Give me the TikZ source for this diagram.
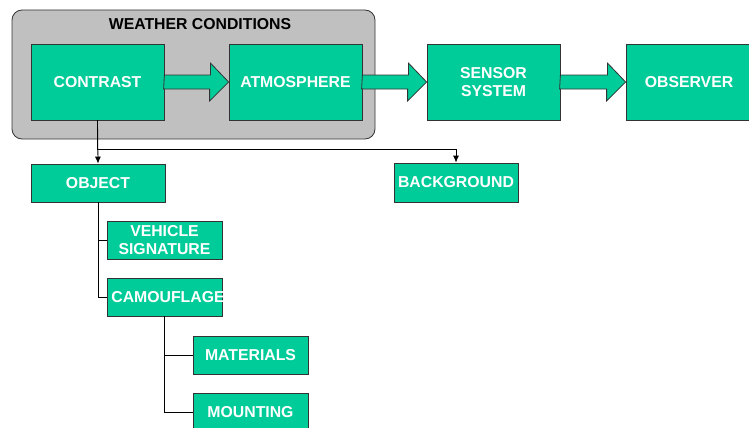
\documentclass[tikz,border=0pt]{standalone}
\usepackage{fontspec}
\setmainfont{Liberation Sans}
\usetikzlibrary{arrows.meta}
\definecolor{boxgreen}{RGB}{0,204,153}
\definecolor{panelgray}{RGB}{192,192,192}
\definecolor{edgegray}{RGB}{51,51,51}

\begin{document}
\begin{tikzpicture}[x=1pt,y=-1pt,line width=0.8pt,
        >={Latex[length=7pt,width=6pt]},
        box/.style={rectangle,draw=edgegray,fill=boxgreen,text=white,inner sep=0pt,
            align=center,font=\fontsize{15.8}{18.5}\selectfont\bfseries},
        fat/.style={draw=edgegray,fill=boxgreen,line join=miter}]
        \useasboundingbox (0,0) rectangle (749,428);
        \clip (0,0) rectangle (749,428);
        % weather panel
        \node at (193.5,74.5)[rectangle,rounded corners=10pt,draw=edgegray,fill=panelgray,
            minimum width=363pt,minimum height=129pt] (weather) {};
        \node at (200,24)[font=\fontsize{15.8}{18.5}\selectfont\bfseries] (weathertitle) {WEATHER CONDITIONS};
        % main chain
        \node at (97.5,82)[box,minimum width=133pt,minimum height=76pt] (contrast) {CONTRAST};
        \node at (295.5,82)[box,minimum width=133pt,minimum height=76pt] (atmosphere) {ATMOSPHERE};
        \node at (493.5,82)[box,minimum width=133pt,minimum height=76pt] (sensor) {SENSOR\\SYSTEM};
        \node at (689,82)[box,minimum width=126pt,minimum height=76pt] (observer) {OBSERVER};
        \draw [fat] ([yshift=7pt]contrast.east) -- ++(46,0) -- ++(0,-12) -- (atmosphere.west) -- ++(-19,19) -- ++(0,-12) -- ++(-46,0) -- cycle;
        \draw [fat] ([yshift=7pt]atmosphere.east) -- ++(46,0) -- ++(0,-12) -- (sensor.west) -- ++(-19,19) -- ++(0,-12) -- ++(-46,0) -- cycle;
        \draw [fat] ([yshift=7pt]sensor.east) -- ++(47,0) -- ++(0,-12) -- (observer.west) -- ++(-19,19) -- ++(0,-12) -- ++(-47,0) -- cycle;
        % contrast split
        \node at (98,183)[box,minimum width=134pt,minimum height=38pt] (object) {OBJECT};
        \node at (456,182.5)[box,minimum width=124pt,minimum height=39pt] (background) {BACKGROUND};
        \draw [->] (contrast.south) -- (object.north);
        \draw [->] (contrast.south) -- ++(0,29) -| (background.north);
        % object tree
        \node at (164.5,240)[box,minimum width=115pt,minimum height=38pt] (vehicle) {VEHICLE\\SIGNATURE};
        \node at (164.5,297)[box,minimum width=115pt,minimum height=38pt] (camouflage) {\makebox[0pt]{\hspace*{7pt}CAMOUFLAGE}};
        \node at (250.5,355)[box,minimum width=115pt,minimum height=38pt] (materials) {MATERIALS};
        \node at (250.5,412)[box,minimum width=115pt,minimum height=38pt] (mounting) {MOUNTING};
        \draw (object.south) |- (vehicle.west);
        \draw (object.south) |- (camouflage.west);
        \draw (camouflage.south) |- (materials.west);
        \draw (camouflage.south) |- (mounting.west);
    \end{tikzpicture}
\end{document}
